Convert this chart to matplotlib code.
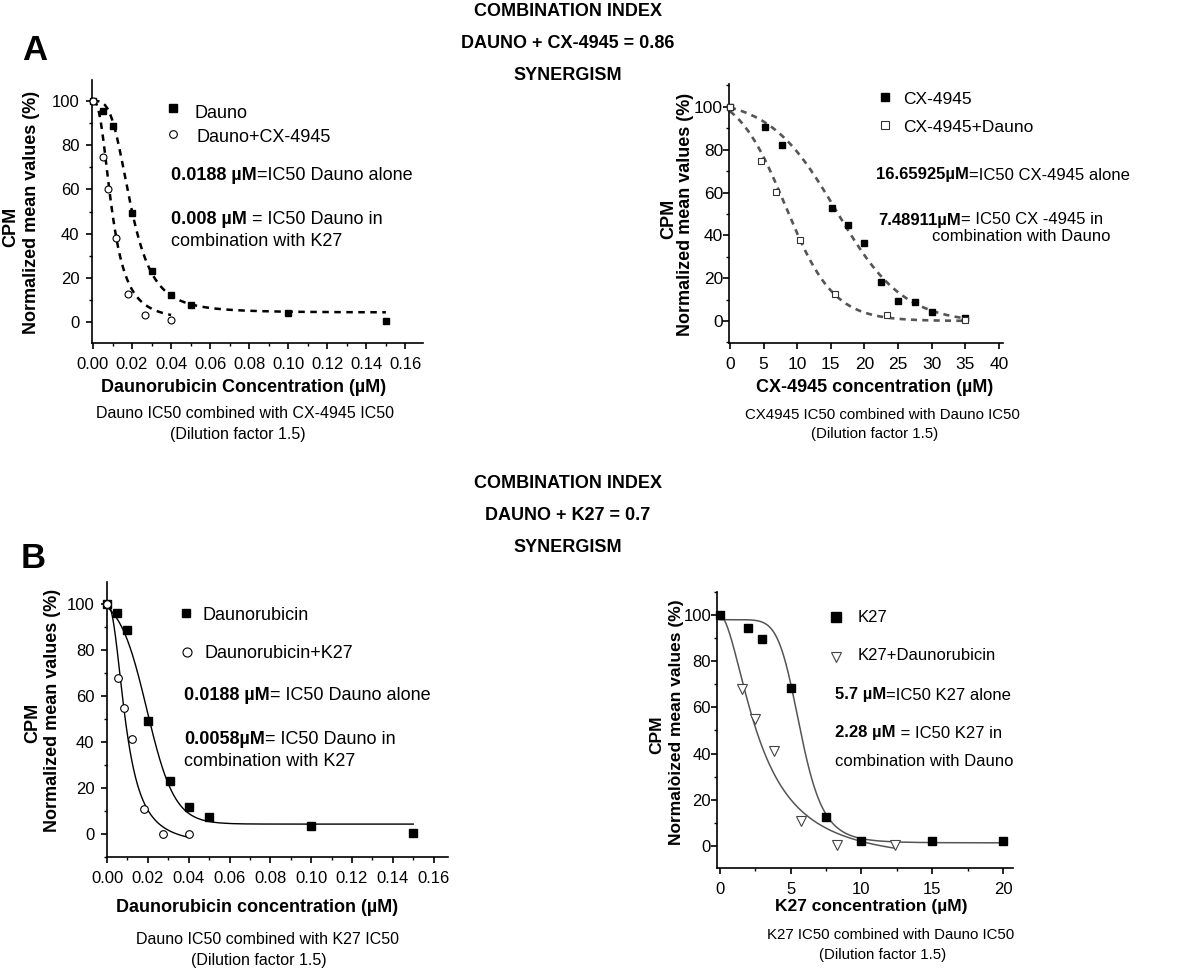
import numpy as np
import matplotlib
matplotlib.use('Agg')
import matplotlib.pyplot as plt
from matplotlib.lines import Line2D
from matplotlib.ticker import MultipleLocator, FormatStrFormatter

plt.rcParams['font.family'] = ['Liberation Sans', 'DejaVu Sans']

W, H = 1200, 969

# ---- panel A, left: daunorubicin alone / with CX-4945
dauno_a_x = [0, 0.005, 0.01, 0.02, 0.03, 0.04, 0.05, 0.10, 0.15]
dauno_a_y = [100, 95.6, 88.7, 49.2, 23, 12, 7.5, 3.9, 0.6]
dauno_cx_x = [0, 0.0053, 0.0079, 0.0119, 0.0178, 0.0267, 0.04]
dauno_cx_y = [100, 74.5, 60, 38, 12.7, 3.3, 0.7]
# fitted curves: (model, top, bottom, midpoint, slope)
dauno_a_fit = ('hill', 100, 4.3, 0.0195, 3.4)
dauno_cx_fit = ('hill', 100, 0.3, 0.0098, 2.5)

# ---- panel A, right: CX-4945 alone / with daunorubicin
cx_x = [0, 5.2, 7.7, 15.1, 17.6, 20, 22.5, 25, 27.5, 30, 35]
cx_y = [100, 90.5, 82, 53, 44.9, 36.4, 18, 9.5, 8.7, 4.4, 1.3]
cx_dauno_x = [0, 4.6, 6.9, 10.4, 15.6, 23.3, 35]
cx_dauno_y = [100, 74.9, 60.4, 37.9, 12.5, 2.8, 0.3]
cx_fit = ('boltzmann', 104, -1, 15.8, 5.0)
cx_dauno_fit = ('boltzmann', 108, 0, 8.2, 3.6)

# ---- panel B, left: daunorubicin alone / with K27
dauno_b_x = [0, 0.005, 0.01, 0.02, 0.031, 0.04, 0.05, 0.10, 0.15]
dauno_b_y = [100, 96, 88.7, 49.1, 23, 11.6, 7.2, 3.6, 0.3]
dauno_k27_x = [0, 0.0054, 0.0082, 0.0123, 0.0182, 0.0273, 0.04]
dauno_k27_y = [100, 67.7, 54.6, 41.2, 10.7, 0.2, 0.2]
dauno_b_fit = ('boltzmann', 104, 4.3, 0.0195, 0.0068)
dauno_k27_fit = ('hill', 100, -5, 0.0093, 2.3)

# ---- panel B, right: K27 alone / with daunorubicin
k27_x = [0, 2, 3, 5, 7.5, 10, 15, 20]
k27_y = [100, 94.3, 89.7, 68.6, 12.5, 2, 1.9, 1.9]
k27_dauno_x = [1.6, 2.5, 3.8, 5.7, 8.3, 12.4]
k27_dauno_y = [67.8, 54.8, 41.3, 10.9, 0.4, 0.4]
k27_fit = ('hill', 98, 1.3, 5.7, 7)
k27_dauno_fit = ('hill', 100, -8, 2.8, 1.8)

headers_a = ['COMBINATION INDEX', 'DAUNO + CX-4945 = 0.86', 'SYNERGISM']
headers_b = ['COMBINATION INDEX', 'DAUNO + K27 = 0.7', 'SYNERGISM']


def fx(x):
    return x / W


def fy(y):
    return 1 - y / H


def fit_curve(fit, x_end):
    model, top, bottom, mid, slope = fit
    xs = np.linspace(0, x_end, 400)
    if model == 'hill':
        ys = bottom + (top - bottom) / (1 + (xs / mid) ** slope)
    else:
        ys = bottom + (top - bottom) / (1 + np.exp((xs - mid) / slope))
    return xs, ys


def make_axes(fig, box, xlim, ylim, xmajor, xminor, xfmt, tsize, ypad, xpad=6):
    # box in pixels: left, top, right, bottom
    l, t, r, b = box
    ax = fig.add_axes([fx(l), fy(b), (r - l) / W, (b - t) / H])
    for s in ('top', 'right'):
        ax.spines[s].set_visible(False)
    for s in ('left', 'bottom'):
        ax.spines[s].set_linewidth(1.2)
    ax.xaxis.set_major_locator(MultipleLocator(xmajor))
    if xminor:
        ax.xaxis.set_minor_locator(MultipleLocator(xminor))
    ax.xaxis.set_major_formatter(FormatStrFormatter(xfmt))
    ax.set_yticks([0, 20, 40, 60, 80, 100])
    ax.yaxis.set_minor_locator(MultipleLocator(10))
    ax.tick_params(which='major', length=4, width=1.2, labelsize=tsize)
    ax.tick_params(which='minor', length=2.5, width=1)
    ax.tick_params(axis='y', pad=ypad)
    ax.tick_params(axis='x', pad=xpad)
    ax.set_xlim(*xlim)
    ax.set_ylim(*ylim)
    return ax


def mixed(fig, ax, x, y, bold, normal, size):
    t = fig.text(fx(x), fy(y), bold, fontsize=size, fontweight='bold',
                 ha='left', va='center')
    ax.annotate(normal, xy=(1, 0), xycoords=t, ha='left', va='bottom',
                fontsize=size, annotation_clip=False)


def legend_item(fig, x, y, tx, ty, label, size, **style):
    fig.add_artist(Line2D([fx(x)], [fy(y)], transform=fig.transFigure,
                          linestyle='none', **style))
    fig.text(fx(tx), fy(ty), label, fontsize=size, ha='left', va='center')


def ylabels(fig, x_cpm, y_cpm, x_norm, y_norm, text, size=13):
    fig.text(fx(x_cpm), fy(y_cpm), 'CPM', rotation=90, fontsize=size,
             fontweight='bold', ha='center', va='center')
    fig.text(fx(x_norm), fy(y_norm), text, rotation=90, fontsize=size,
             fontweight='bold', ha='center', va='center')


def captions(fig, x1, y1, x2, y2, text, size):
    fig.text(fx(x1), fy(y1), text, fontsize=size, ha='center', va='center')
    fig.text(fx(x2), fy(y2), '(Dilution factor 1.5)', fontsize=size,
             ha='center', va='center')


fig = plt.figure(figsize=(W / 100, H / 100), dpi=100)

# headers
for text, y in zip(headers_a, [12, 43, 76]):
    fig.text(fx(568), fy(y), text, fontsize=13, fontweight='bold',
             ha='center', va='center')
for text, y in zip(headers_b, [483, 515, 548]):
    fig.text(fx(568), fy(y), text, fontsize=13, fontweight='bold',
             ha='center', va='center')
fig.text(fx(35), fy(50), 'A', fontsize=25, fontweight='bold', ha='center', va='center')
fig.text(fx(33), fy(559), 'B', fontsize=25, fontweight='bold', ha='center', va='center')

# ---------------- A left
ax = make_axes(fig, (92, 80, 423, 343), (-0.0005, 0.169), (-9.5, 109.5),
               0.02, 0.01, '%.2f', 12, 5)
xs, ys = fit_curve(dauno_a_fit, max(dauno_a_x))
ax.plot(xs, ys, color='black', lw=1.8, dashes=(2.6, 2.2))
xs, ys = fit_curve(dauno_cx_fit, max(dauno_cx_x))
ax.plot(xs, ys, color='black', lw=1.8, dashes=(2.6, 2.2))
ax.plot(dauno_a_x, dauno_a_y, 's', color='black', ms=5, clip_on=False, zorder=4)
ax.plot(dauno_cx_x, dauno_cx_y, 'o', mfc='white', mec='black', mew=0.8, ms=5,
        clip_on=False, zorder=5)
legend_item(fig, 173, 108, 195, 113, 'Dauno', 13, marker='s', color='black', ms=5.5)
legend_item(fig, 173, 134, 196, 137, 'Dauno+CX-4945', 13, marker='o', mfc='white',
            mec='black', mew=0.8, ms=5.5)
mixed(fig, ax, 171, 175, '0.0188 µM', '=IC50 Dauno alone', 13)
mixed(fig, ax, 171, 219, '0.008 µM', ' = IC50 Dauno in', 13)
fig.text(fx(171), fy(241), 'combination with K27', fontsize=13, ha='left', va='center')
ylabels(fig, 11, 227, 32, 212, 'Normalized mean values (%)')
fig.text(fx(244), fy(387), 'Daunorubicin Concentration (µM)', fontsize=13,
         fontweight='bold', ha='center', va='center')
captions(fig, 245, 414, 238, 434, 'Dauno IC50 combined with CX-4945 IC50', 11.5)

# ---------------- A right
ax = make_axes(fig, (729, 84, 1003, 343), (-0.15, 40.6), (-10.3, 110.7),
               5, None, '%d', 12.5, 0.3)
grey = '#555555'
xs, ys = fit_curve(cx_fit, max(cx_x))
ax.plot(xs, ys, color=grey, lw=1.9, dashes=(2.3, 2.0))
xs, ys = fit_curve(cx_dauno_fit, max(cx_dauno_x))
ax.plot(xs, ys, color=grey, lw=1.9, dashes=(2.3, 2.0))
ax.plot(cx_x, cx_y, 's', color='black', ms=5, clip_on=False, zorder=4)
ax.plot(cx_dauno_x, cx_dauno_y, 's', mfc='white', mec='#333333', mew=0.8, ms=5,
        clip_on=False, zorder=5)
legend_item(fig, 885, 97, 903, 99, 'CX-4945', 12.5, marker='s', color='black', ms=5.5)
legend_item(fig, 885, 125, 903, 127, 'CX-4945+Dauno', 12.5, marker='s', mfc='white',
            mec='#333333', mew=0.8, ms=5.5)
mixed(fig, ax, 876, 175, '16.65925µM', '=IC50 CX-4945 alone', 12)
mixed(fig, ax, 878, 220, '7.48911µM', '= IC50 CX -4945 in', 12)
fig.text(fx(932), fy(237), 'combination with Dauno', fontsize=12, ha='left', va='center')
ylabels(fig, 669, 219, 686, 214, 'Normalized mean values (%)')
fig.text(fx(875), fy(388), 'CX-4945 concentration (µM)', fontsize=13,
         fontweight='bold', ha='center', va='center')
captions(fig, 882, 415, 875, 434, 'CX4945 IC50 combined with Dauno IC50', 10.8)

# ---------------- B left
ax = make_axes(fig, (107, 582, 448, 857), (0, 0.167), (-10, 109.5),
               0.02, 0.01, '%.2f', 12, 5)
xs, ys = fit_curve(dauno_b_fit, max(dauno_b_x))
ax.plot(xs, ys, color='black', lw=1.0)
xs, ys = fit_curve(dauno_k27_fit, max(dauno_k27_x))
ax.plot(xs, ys, color='black', lw=1.0)
ax.plot(dauno_b_x, dauno_b_y, 's', color='black', ms=5.5, clip_on=False, zorder=4)
ax.plot(dauno_k27_x, dauno_k27_y, 'o', mfc='white', mec='black', mew=0.8, ms=5.5,
        clip_on=False, zorder=5)
legend_item(fig, 186, 613, 202, 616, 'Daunorubicin', 13, marker='s', color='black', ms=6)
legend_item(fig, 187, 652, 205, 653, 'Daunorubicin+K27', 13, marker='o', mfc='white',
            mec='black', mew=0.8, ms=6.5)
mixed(fig, ax, 184, 695, '0.0188 µM', '= IC50 Dauno alone', 13)
mixed(fig, ax, 184, 739, '0.0058µM', '= IC50 Dauno in', 13)
fig.text(fx(184), fy(762), 'combination with K27', fontsize=13, ha='left', va='center')
ylabels(fig, 33, 723, 53, 710, 'Normalized mean values (%)')
fig.text(fx(257), fy(907), 'Daunorubicin concentration (µM)', fontsize=13,
         fontweight='bold', ha='center', va='center')
captions(fig, 268, 940, 259, 960, 'Dauno IC50 combined with K27 IC50', 11.5)

# ---------------- B right
ax = make_axes(fig, (717, 592, 1013, 868), (-0.2, 20.7), (-9.6, 110),
               5, 2.5, '%d', 12, 0.3)
xs, ys = fit_curve(k27_fit, max(k27_x))
ax.plot(xs, ys, color=grey, lw=1.1)
xs, ys = fit_curve(k27_dauno_fit, max(k27_dauno_x))
ax.plot(xs, ys, color=grey, lw=1.1)
ax.plot(k27_x, k27_y, 's', color='black', ms=6, clip_on=False, zorder=4)
ax.plot(k27_dauno_x, k27_dauno_y, 'v', mfc='white', mec='#444444', mew=0.8, ms=7,
        clip_on=False, zorder=5)
legend_item(fig, 836, 617, 858, 617, 'K27', 12, marker='s', color='black', ms=6.5)
legend_item(fig, 836, 657, 858, 656, 'K27+Daunorubicin', 12, marker='v', mfc='white',
            mec='#444444', mew=0.8, ms=7.5)
mixed(fig, ax, 835, 695, '5.7 µM', '=IC50 K27 alone', 12)
mixed(fig, ax, 835, 733, '2.28 µM', ' = IC50 K27 in', 12)
fig.text(fx(835), fy(761), 'combination with Dauno', fontsize=12, ha='left', va='center')
ylabels(fig, 657, 735, 677, 722, 'Normalòized mean values (%)', size=12.5)
fig.text(fx(871), fy(907), 'K27 concentration (µM)', fontsize=12.5,
         fontweight='bold', ha='center', va='center')
captions(fig, 891, 935, 883, 955, 'K27 IC50 combined with Dauno IC50', 10.8)

fig.savefig('out.png', dpi=100)
